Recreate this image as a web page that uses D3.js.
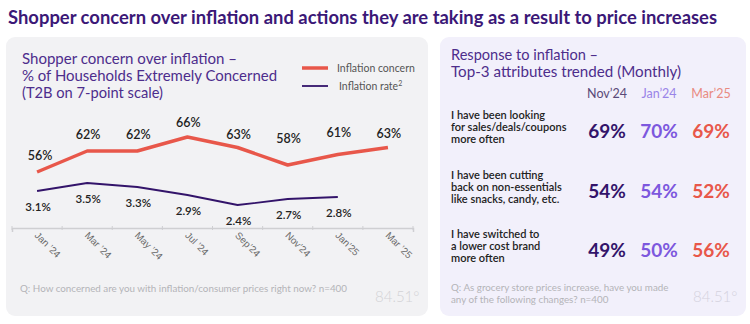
<!DOCTYPE html>
<html>
<head>
<meta charset="utf-8">
<script src="https://cdn.jsdelivr.net/npm/d3@7"></script>
<style>
  html, body { margin: 0; padding: 0; background: #ffffff; }
  svg { display: block; font-family: Lato, "Noto Sans", sans-serif; }
</style>
</head>
<body>
<svg id="chart" width="750" height="324"></svg>
<script>
// Months on the trend chart
const months = ["Jan ’24", "Mar ’24", "May ’24", "Jul ’24", "Sep’24", "Nov’24", "Jan’25", "Mar ’25"];
// % of households extremely concerned (T2B)
const concern = [56, 62, 62, 66, 63, 58, 61, 63];
// Inflation rate (%), no reading yet for the last month
const inflationRate = [3.1, 3.5, 3.3, 2.9, 2.4, 2.7, 2.8];

// Response-to-inflation table
const waves = ["Nov’24", "Jan’24", "Mar’25"];
const attributes = [
  ["I have been looking", "for sales/deals/coupons", "more often"],
  ["I have been cutting", "back on non-essentials", "like snacks, candy, etc."],
  ["I have switched to", "a lower cost brand", "more often"]
];
const nov24 = [69, 54, 49];
const jan24 = [70, 54, 50];
const mar25 = [69, 52, 56];

const svg = d3.select("#chart");
const C = {
  title: "#3b1877",
  sub: "#4d2d8c",
  red: "#e8574a",
  purple: "#33146a",
  violet: "#7d58de",
  ink: "#222222",
  grey: "#6b6b6b",
  faint: "#b4b4b8"
};

// Headline
svg.append("text").attr("x", 8).attr("y", 24)
  .attr("fill", C.title).attr("font-size", 18).attr("font-weight", 700)
  .attr("textLength", 709).attr("lengthAdjust", "spacingAndGlyphs")
  .text("Shopper concern over inflation and actions they are taking as a result to price increases");

// Panels
svg.append("rect").attr("x", 6).attr("y", 37).attr("width", 422).attr("height", 279)
  .attr("rx", 9).attr("fill", "#f2f2f4");
svg.append("rect").attr("x", 440).attr("y", 37).attr("width", 306).attr("height", 279)
  .attr("rx", 9).attr("fill", "#f2f0fb");

// ---------- Left panel: trend lines ----------
const left = svg.append("g");
const subLines = [
  { t: "Shopper concern over inflation –", w: 215 },
  { t: "% of Households Extremely Concerned", w: 255 },
  { t: "(T2B on 7-point scale)", w: 141 }
];
left.selectAll("text.sub").data(subLines).join("text")
  .attr("class", "sub")
  .attr("x", 22).attr("y", (d, i) => 64 + i * 17)
  .attr("fill", C.sub).attr("font-size", 15)
  .attr("textLength", d => d.w).attr("lengthAdjust", "spacingAndGlyphs")
  .text(d => d.t);

// Legend
const legend = [
  { label: "Inflation concern", color: C.red, w: 3.5, y: 68 },
  { label: "Inflation rate", color: C.purple, w: 1.8, y: 86 }
];
const lg = left.selectAll("g.lg").data(legend).join("g").attr("class", "lg");
lg.append("line").attr("x1", 302).attr("x2", 328)
  .attr("y1", d => d.y).attr("y2", d => d.y)
  .attr("stroke", d => d.color).attr("stroke-width", d => d.w);
const lgt = lg.append("text").attr("x", (d, i) => i ? 339 : 337).attr("y", d => d.y + 3.5)
  .attr("fill", "#555").attr("font-size", 10.5).text(d => d.label);
lgt.filter((d, i) => i === 1).append("tspan")
  .attr("font-size", 7).attr("dy", -4).text("2");

const x = d3.scaleBand().domain(months).range([12, 413]);
const cx = m => x(m) + x.bandwidth() / 2;
const yConcern = d3.scaleLinear().domain([50, 70]).range([193, 123]);
const yRate = d3.scaleLinear().domain([2, 4]).range([213, 173]);

// Axis
const axis = d3.axisBottom(x).tickSize(4).tickSizeOuter(4).tickFormat("");
const ax = left.append("g").attr("transform", "translate(0,228)").call(axis);
ax.select(".domain").attr("stroke", "#cfcfd2").attr("stroke-width", 1.5);
ax.selectAll(".tick line").attr("stroke", "#cfcfd2").attr("transform", `translate(${-x.bandwidth() / 2},-2)`);
// outer right tick
ax.append("line").attr("x1", 413).attr("x2", 413).attr("y1", -2).attr("y2", 2).attr("stroke", "#cfcfd2");
ax.selectAll(".tick").append("text")
  .attr("transform", "translate(-3,8) rotate(45)")
  .attr("text-anchor", "start")
  .attr("fill", C.grey).attr("font-size", 9.8)
  .text(d => d);

// Concern line
const concernPts = concern.map((v, i) => ({ m: months[i], v }));
left.append("path").datum(concernPts)
  .attr("fill", "none").attr("stroke", C.red).attr("stroke-width", 3.5)
  .attr("stroke-linejoin", "round")
  .attr("d", d3.line().x(d => cx(d.m)).y(d => yConcern(d.v)));

// Rate line
const ratePts = inflationRate.map((v, i) => ({ m: months[i], v }));
left.append("path").datum(ratePts)
  .attr("fill", "none").attr("stroke", C.purple).attr("stroke-width", 1.8)
  .attr("stroke-linejoin", "round")
  .attr("d", d3.line().x(d => cx(d.m)).y(d => yRate(d.v)));

// Value labels: concern above its line (some lifted clear of the segments), rate below
const concernLift = [12, 12, 12, 10, 9, 22, 18, 10];
left.selectAll("text.cl").data(concernPts).join("text")
  .attr("class", "cl")
  .attr("x", (d, i) => cx(d.m) + (i === 0 ? 3 : 1))
  .attr("y", (d, i) => yConcern(d.v) - concernLift[i])
  .attr("text-anchor", "middle").attr("fill", C.ink)
  .attr("font-size", 12.5).attr("font-weight", 600)
  .text(d => d.v + "%");
left.selectAll("text.rl").data(ratePts).join("text")
  .attr("class", "rl")
  .attr("x", d => cx(d.m) + 1)
  .attr("y", d => yRate(d.v) + 20)
  .attr("text-anchor", "middle").attr("fill", C.ink)
  .attr("font-size", 11.5).attr("font-weight", 600)
  .text(d => d.v.toFixed(1) + "%");

// Footnote and logo
left.append("text").attr("x", 20).attr("y", 292)
  .attr("fill", C.faint).attr("font-size", 9.8)
  .attr("textLength", 327).attr("lengthAdjust", "spacingAndGlyphs")
  .text("Q: How concerned are you with inflation/consumer prices right now? n=400");
left.append("text").attr("x", 375).attr("y", 302)
  .attr("fill", "#d2d2d6").attr("font-size", 15).attr("font-weight", 300)
  .text("84.51°");

// ---------- Right panel: response table ----------
const right = svg.append("g");
[{ t: "Response to inflation –", w: 147 }, { t: "Top-3 attributes trended (Monthly)", w: 230 }].forEach((d, i) => {
  right.append("text").attr("x", 451).attr("y", 60 + i * 17)
    .attr("fill", C.sub).attr("font-size", 15)
    .attr("textLength", d.w).attr("lengthAdjust", "spacingAndGlyphs")
    .text(d.t);
});

const col = d3.scalePoint().domain(waves).range([607, 711]);
const row = d3.scalePoint().domain(d3.range(attributes.length)).range([138, 257]);
const waveColor = d3.scaleOrdinal().domain(waves).range([C.purple, C.violet, C.red]);
const headColor = d3.scaleOrdinal().domain(waves).range(["#5a4a78", "#9a84e8", "#e98a80"]);

right.selectAll("text.hd").data(waves).join("text")
  .attr("class", "hd")
  .attr("x", d => col(d)).attr("y", 98)
  .attr("text-anchor", "middle").attr("fill", d => headColor(d))
  .attr("font-size", 12.5)
  .text(d => d);

attributes.forEach((lines, r) => {
  const base = row(r);
  lines.forEach((t, k) => {
    right.append("text").attr("x", 451).attr("y", base - 19 + k * 12)
      .attr("fill", C.ink).attr("font-size", 11).attr("font-weight", 600)
      .text(t);
  });
  const vals = [nov24[r], jan24[r], mar25[r]];
  right.selectAll(null).data(vals.map((v, j) => ({ w: waves[j], v }))).join("text")
    .attr("x", d => col(d.w)).attr("y", base)
    .attr("text-anchor", "middle").attr("fill", d => waveColor(d.w))
    .attr("font-size", 19).attr("font-weight", 700)
    .text(d => d.v + "%");
});

["Q: As grocery store prices increase, have you made", "any of the following changes? n=400"].forEach((t, i) => {
  right.append("text").attr("x", 451).attr("y", 291 + i * 11.5)
    .attr("fill", C.faint).attr("font-size", 9.8)
    .text(t);
});
right.append("text").attr("x", 693).attr("y", 302)
  .attr("fill", "#d4d2de").attr("font-size", 15).attr("font-weight", 300)
  .text("84.51°");
</script>
</body>
</html>
